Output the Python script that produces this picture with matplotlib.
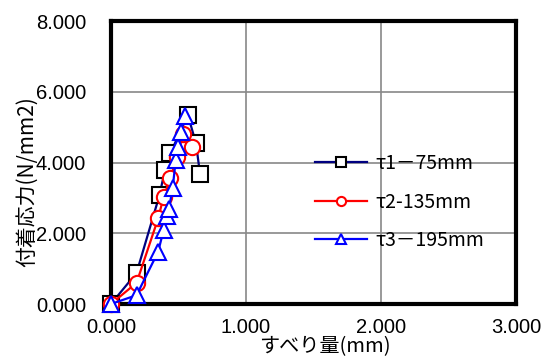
import matplotlib
matplotlib.use("Agg")
import matplotlib.pyplot as plt

plt.rcParams['font.family'] = ['Liberation Sans', 'Noto Sans CJK JP', 'DejaVu Sans']

# data
x1 = [0.0, 0.19, 0.36, 0.40, 0.44, 0.57, 0.63, 0.66]
y1 = [0.0, 0.88, 3.08, 3.79, 4.26, 5.34, 4.54, 3.67]
x2 = [0.0, 0.19, 0.35, 0.39, 0.44, 0.49, 0.535, 0.60]
y2 = [0.0, 0.60, 2.42, 3.03, 3.55, 4.16, 4.82, 4.44]
x3 = [0.0, 0.19, 0.35, 0.39, 0.417, 0.43, 0.457, 0.48, 0.50, 0.516, 0.548]
y3 = [0.0, 0.25, 1.48, 2.09, 2.49, 2.70, 3.27, 4.07, 4.44, 4.87, 5.31]
labels = ['τ1－75mm', 'τ2-135mm', 'τ3－195mm']
xticks = [0, 1, 2, 3]
yticks = [0, 2, 4, 6, 8]

fig = plt.figure(figsize=(5.41, 3.56), dpi=100)
ax = fig.add_axes([0.205, 0.146, 0.749, 0.795])

ax.plot(x1, y1, color='#000080', lw=1.6, marker='s', ms=11, mfc='white',
        mec='black', mew=1.5, label=labels[0], clip_on=False, zorder=3)
ax.plot(x2, y2, color='red', lw=1.6, marker='o', ms=11, mfc='white',
        mec='red', mew=1.5, label=labels[1], clip_on=False, zorder=4)
ax.plot(x3, y3, color='blue', lw=1.6, marker='^', ms=11, mfc='white',
        mec='blue', mew=1.5, label=labels[2], clip_on=False, zorder=5)

ax.set_xlim(0, 3)
ax.set_ylim(0, 8)
ax.set_xticks(xticks)
ax.set_yticks(yticks)
ax.set_xticklabels(['%.3f' % v for v in xticks])
ax.set_yticklabels(['%.3f' % v for v in yticks])
ax.tick_params(length=0, labelsize=14.5)
ax.tick_params(axis='x', pad=10)
ax.tick_params(axis='y', pad=18)
ax.grid(True, color='#888888', lw=1.2)
ax.set_axisbelow(True)
for s in ax.spines.values():
    s.set_linewidth(3)
    s.set_color('black')

cjk = ['Noto Sans CJK JP', 'DejaVu Sans']
fig.text(0.601, 0.027, 'すべり量(mm)', fontsize=14.5, family=cjk,
         ha='center', va='center')
fig.text(0.05, 0.489, '付着応力(N/mm2)', fontsize=15, family=cjk,
         rotation=90, ha='center', va='center')

leg = ax.legend(loc='center left', bbox_to_anchor=(0.46, 0.36), frameon=False,
                prop={'family': cjk, 'size': 14}, markerscale=0.6,
                handlelength=2.7, labelspacing=0.9, handletextpad=0.4)

fig.savefig('out.png', dpi=100)
